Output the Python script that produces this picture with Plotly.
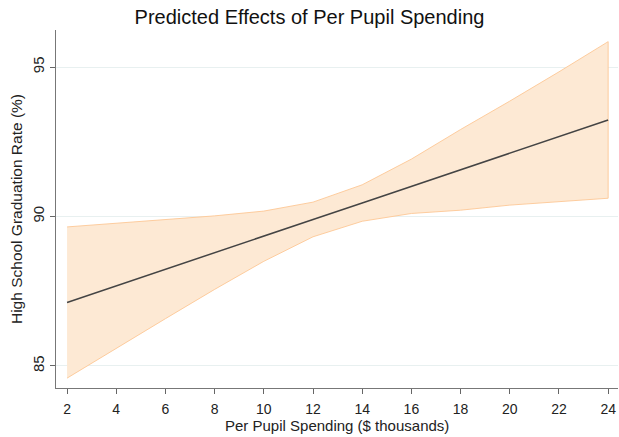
import plotly.graph_objects as go

# Per pupil spending ($ thousands) and predicted graduation rate with 95% CI
spending = [2, 4, 6, 8, 10, 12, 14, 16, 18, 20, 22, 24]
predicted = [87.12, 87.68, 88.23, 88.79, 89.34, 89.90, 90.45, 91.01, 91.56, 92.12, 92.67, 93.23]
ci_upper = [89.65, 89.77, 89.88, 90.02, 90.18, 90.48, 91.06, 91.92, 92.91, 93.86, 94.84, 95.85]
ci_lower = [84.59, 85.59, 86.58, 87.56, 88.50, 89.32, 89.84, 90.10, 90.21, 90.38, 90.50, 90.61]

x_ticks = list(range(2, 25, 2))
y_ticks = [85, 90, 95]

band_edge = "rgba(253,200,150,0.9)"
band_fill = "rgba(253,233,212,1)"

fig = go.Figure()
fig.add_trace(go.Scatter(
    x=spending + spending[::-1],
    y=ci_upper + ci_lower[::-1],
    fill="toself",
    fillcolor=band_fill,
    line=dict(color=band_edge, width=1),
    mode="lines",
    hoverinfo="skip",
    showlegend=False,
))
fig.add_trace(go.Scatter(
    x=spending, y=predicted,
    mode="lines",
    line=dict(color="#444444", width=1.5),
    showlegend=False,
))

fig.update_layout(
    width=619, height=437,
    margin=dict(l=56, r=1, t=30, b=49),
    paper_bgcolor="white",
    plot_bgcolor="white",
    font=dict(family="Liberation Sans, Arial, sans-serif", color="#222"),
    title=dict(
        text="Predicted Effects of Per Pupil Spending",
        x=0.5, xanchor="center", y=0.962, yanchor="middle",
        font=dict(size=20, color="#111"),
    ),
    annotations=[dict(
        text="Per Pupil Spending ($ thousands)",
        xref="paper", yref="paper", x=0.5, y=0, yshift=-37,
        xanchor="center", yanchor="middle", showarrow=False,
        font=dict(size=15, color="#222"),
    )],
)
fig.update_xaxes(
    range=[1.55, 24.4],
    tickvals=x_ticks,
    ticks="outside", ticklen=5, tickcolor="#666",
    ticklabelstandoff=3,
    showline=True, linecolor="#777", linewidth=1,
    showgrid=False, zeroline=False,
    tickfont=dict(size=14),
)
fig.update_yaxes(
    range=[84.26, 96.24],
    tickvals=y_ticks,
    tickangle=-90,
    ticks="outside", ticklen=5, tickcolor="#666",
    showline=True, linecolor="#777", linewidth=1,
    showgrid=True, gridcolor="#e8f0f0", gridwidth=1,
    zeroline=False,
    tickfont=dict(size=15),
    title=dict(text="High School Graduation Rate (%)", font=dict(size=15.5), standoff=3),
)

fig.write_html("out.html")
